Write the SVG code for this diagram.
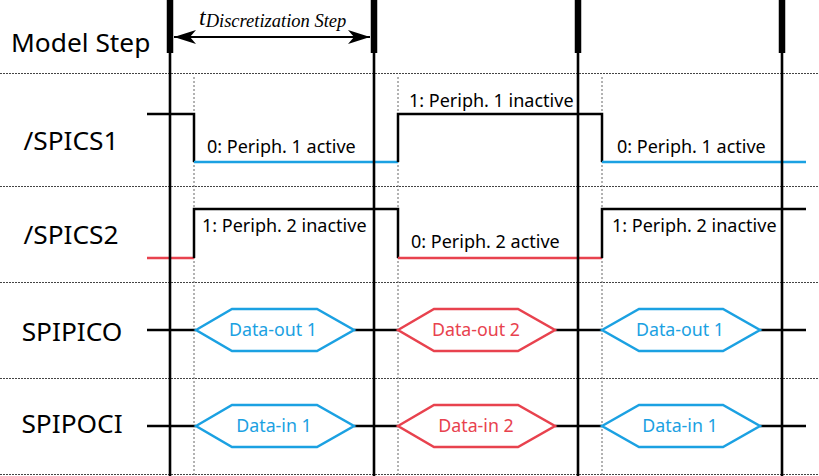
<svg xmlns="http://www.w3.org/2000/svg" width="819" height="476" viewBox="0 0 819 476">
<style>
.bg{fill:#ffffff}
.grid{stroke:#444;stroke-width:1;stroke-dasharray:2 1;fill:none}
.vdot{stroke:#666;stroke-width:1;stroke-dasharray:2 2;fill:none}
.bar{stroke:#000;stroke-width:6.5;fill:none}
.step{stroke:#000;stroke-width:2.6;fill:none}
.sig{stroke:#000;stroke-width:2.5;fill:none}
.blue{stroke:#1ba1e2;stroke-width:2.5;fill:none}
.red{stroke:#e8424e;stroke-width:2.5;fill:none}
.hexb{stroke:#1ba1e2;stroke-width:2.5;fill:#fff}
.hexr{stroke:#e8424e;stroke-width:2.5;fill:#fff}
.lbl{font-family:"Noto Sans","Open Sans","DejaVu Sans",sans-serif;font-size:26.3px;fill:#000}
.st{font-family:"Noto Sans","Open Sans","DejaVu Sans",sans-serif;font-size:18px;fill:#000}
.tb{font-family:"Noto Sans","Open Sans","DejaVu Sans",sans-serif;font-size:17.8px;fill:#1ba1e2;text-anchor:middle}
.tr{font-family:"Noto Sans","Open Sans","DejaVu Sans",sans-serif;font-size:17.8px;fill:#e8424e;text-anchor:middle}
.ti{font-family:"Liberation Serif","Times New Roman",serif;font-style:italic;fill:#000}
</style>
<defs>
<marker id="ah" markerUnits="userSpaceOnUse" markerWidth="24" markerHeight="16" refX="22" refY="8" orient="auto-start-reverse">
<path d="M0,1 L22,8 L0,15 L6,8 z" fill="#000"/>
</marker>
</defs>
<rect class="bg" x="0" y="0" width="819" height="476"/>
<g id="grid">
<line class="grid" x1="0" y1="73.5" x2="819" y2="73.5"/>
<line class="grid" x1="0" y1="186.5" x2="819" y2="186.5"/>
<line class="grid" x1="0" y1="282.5" x2="819" y2="282.5"/>
<line class="grid" x1="0" y1="378.5" x2="819" y2="378.5"/>
<line class="grid" x1="0" y1="474.5" x2="819" y2="474.5"/>
<line class="vdot" x1="194" y1="77" x2="194" y2="476"/>
<line class="vdot" x1="398" y1="77" x2="398" y2="476"/>
<line class="vdot" x1="602" y1="77" x2="602" y2="476"/>
</g>
<g id="labels">
<text class="lbl" x="11" y="52">Model Step</text>
<text class="lbl" x="71" y="150" text-anchor="middle">/SPICS1</text>
<text class="lbl" x="71" y="244" text-anchor="middle">/SPICS2</text>
<text class="lbl" x="72" y="341" text-anchor="middle">SPIPICO</text>
<text class="lbl" x="72" y="433" text-anchor="middle">SPIPOCI</text>
</g>
<g id="spics1">
<polyline class="sig" points="147,114 194,114 194,162"/>
<line class="blue" x1="194" y1="162" x2="398" y2="162"/>
<polyline class="sig" points="398,162 398,114 602,114 602,162"/>
<line class="blue" x1="602" y1="162" x2="806" y2="162"/>
<text class="st" x="207" y="153">0: Periph. 1 active</text>
<text class="st" x="409" y="107">1: Periph. 1 inactive</text>
<text class="st" x="617" y="153">0: Periph. 1 active</text>
</g>
<g id="spics2">
<line class="red" x1="147" y1="258" x2="194" y2="258"/>
<polyline class="sig" points="194,258 194,209 398,209 398,258"/>
<line class="red" x1="398" y1="258" x2="602" y2="258"/>
<polyline class="sig" points="602,258 602,209 806,209"/>
<text class="st" x="202" y="232">1: Periph. 2 inactive</text>
<text class="st" x="411" y="248">0: Periph. 2 active</text>
<text class="st" x="612" y="232">1: Periph. 2 inactive</text>
</g>
<g id="spipico">
<line class="sig" x1="147" y1="330" x2="196" y2="330"/>
<line class="sig" x1="354" y1="330" x2="398" y2="330"/>
<line class="sig" x1="555" y1="330" x2="602" y2="330"/>
<line class="sig" x1="760" y1="330" x2="806" y2="330"/>
<g id="pico-out1"><polygon class="hexb" points="196,330 232,309 317,309 354,330 317,351 232,351"/><text class="tb" x="273" y="336">Data-out 1</text></g>
<g id="pico-out2"><polygon class="hexr" points="398,330 434,309 518,309 555,330 518,351 434,351"/><text class="tr" x="476" y="336">Data-out 2</text></g>
<g id="pico-out1b"><polygon class="hexb" points="602,330 639,309 723,309 760,330 723,351 639,351"/><text class="tb" x="680" y="336">Data-out 1</text></g>
</g>
<g id="spipoci">
<line class="sig" x1="147" y1="426" x2="196" y2="426"/>
<line class="sig" x1="354" y1="426" x2="398" y2="426"/>
<line class="sig" x1="555" y1="426" x2="602" y2="426"/>
<line class="sig" x1="760" y1="426" x2="806" y2="426"/>
<g id="poci-in1"><polygon class="hexb" points="196,426 232,405 317,405 354,426 317,447 232,447"/><text class="tb" x="274" y="432">Data-in 1</text></g>
<g id="poci-in2"><polygon class="hexr" points="398,426 434,405 518,405 555,426 518,447 434,447"/><text class="tr" x="476" y="432">Data-in 2</text></g>
<g id="poci-in1b"><polygon class="hexb" points="602,426 639,405 723,405 760,426 723,447 639,447"/><text class="tb" x="680" y="432">Data-in 1</text></g>
</g>
<g id="model-steps">
<line class="bar" x1="170" y1="0" x2="170" y2="53"/>
<line class="bar" x1="374" y1="0" x2="374" y2="53"/>
<line class="bar" x1="578" y1="0" x2="578" y2="53"/>
<line class="bar" x1="782" y1="0" x2="782" y2="53"/>
<line class="step" x1="170" y1="53" x2="170" y2="476"/>
<line class="step" x1="374" y1="53" x2="374" y2="476"/>
<line class="step" x1="578" y1="53" x2="578" y2="476"/>
<line class="step" x1="782" y1="53" x2="782" y2="476"/>
</g>
<g id="connectors">
<line x1="174" y1="37" x2="370" y2="37" stroke="#000" stroke-width="2" marker-start="url(#ah)" marker-end="url(#ah)"/>
<text class="ti" x="199" y="25" font-size="24">t<tspan font-size="18.5" dy="2">Discretization Step</tspan></text>
</g>
</svg>
